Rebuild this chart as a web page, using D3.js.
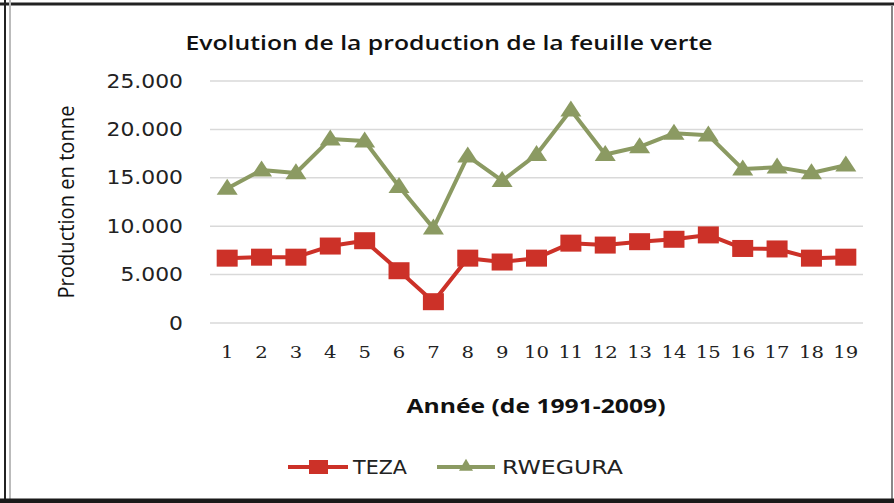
<!DOCTYPE html>
<html>
<head>
<meta charset="utf-8">
<script src="https://cdn.jsdelivr.net/npm/d3@7"></script>
<style>
  html, body { margin: 0; padding: 0; background: #fff; }
  svg { display: block; }
</style>
</head>
<body>
<svg id="chart" width="894" height="503"></svg>
<script>
// Data
const years = d3.range(1, 20).map(String);
const teza = [6700, 6800, 6800, 7950, 8500, 5400, 2200, 6700, 6300, 6700,
  8250, 8050, 8400, 8650, 9100, 7700, 7650, 6700, 6800];
const rwegura = [13900, 15800, 15500, 19000, 18800, 14100, 9800, 17250, 14700, 17400,
  22000, 17400, 18200, 19600, 19400, 15900, 16100, 15500, 16300];
const yTicks = [0, 5000, 10000, 15000, 20000, 25000];

const svg = d3.select('#chart');
const W = 894, H = 503;
const green = '#8b9a62', red = '#cc3128';

// the source picture is stretched sideways, so stretch text the same way
function stretch(sel, k) {
  sel.each(function () {
    const len = this.getComputedTextLength();
    d3.select(this).attr('textLength', len * k).attr('lengthAdjust', 'spacingAndGlyphs');
  });
}

// frame
svg.append('rect').attr('width', W).attr('height', H).attr('fill', '#fff');
svg.append('line').attr('x1', 0).attr('x2', W).attr('y1', 4).attr('y2', 4).attr('stroke', '#222').attr('stroke-width', 3);
svg.append('line').attr('x1', 5).attr('x2', 5).attr('y1', 0).attr('y2', H).attr('stroke', '#222').attr('stroke-width', 2);
svg.append('line').attr('x1', 10).attr('x2', 10).attr('y1', 0).attr('y2', H).attr('stroke', '#bbb').attr('stroke-width', 2);
svg.append('line').attr('x1', 892).attr('x2', 892).attr('y1', 6).attr('y2', H).attr('stroke', '#888').attr('stroke-width', 2);
svg.append('line').attr('x1', 0).attr('x2', W).attr('y1', 501).attr('y2', 501).attr('stroke', '#1a1a1a').attr('stroke-width', 5);

const x = d3.scaleBand().domain(years).range([210, 863]);
const y = d3.scaleLinear().domain([0, 25000]).range([323, 81]);
const cx = d => x(d) + x.bandwidth() / 2;

// gridlines
svg.append('g')
  .selectAll('line')
  .data(yTicks)
  .enter().append('line')
  .attr('x1', 210).attr('x2', 863)
  .attr('y1', d => y(d)).attr('y2', d => y(d))
  .attr('stroke', '#d9d9d9').attr('stroke-width', 1.5);

// y axis
const yAxis = svg.append('g')
  .attr('transform', 'translate(183,0)')
  .call(d3.axisLeft(y).tickValues(yTicks).tickSize(0).tickPadding(0)
    .tickFormat(d => d === 0 ? '0' : d3.format(',')(d).replace(/,/g, '.')));
yAxis.select('.domain').remove();
yAxis.selectAll('text')
  .attr('font-family', 'DejaVu Sans')
  .attr('font-size', 19)
  .attr('fill', '#222')
  .call(stretch, 1.15);

// x axis
const xAxis = svg.append('g')
  .attr('transform', 'translate(0,346)')
  .call(d3.axisBottom(x).tickSize(0).tickPadding(0));
xAxis.select('.domain').remove();
xAxis.selectAll('text')
  .attr('font-family', 'DejaVu Serif')
  .attr('font-size', 17.5)
  .attr('fill', '#222')
  .call(stretch, 1.12);

// lines
const line = vals => d3.line().x((d, i) => cx(years[i])).y(d => y(d))(vals);
svg.append('path').attr('d', line(rwegura)).attr('fill', 'none')
  .attr('stroke', green).attr('stroke-width', 4).attr('stroke-linejoin', 'round');
svg.append('path').attr('d', line(teza)).attr('fill', 'none')
  .attr('stroke', red).attr('stroke-width', 4).attr('stroke-linejoin', 'round');

// markers
const triPath = (w, h) => `M0,${-h * 0.6}L${w / 2},${h * 0.4}L${-w / 2},${h * 0.4}Z`;
svg.append('g').selectAll('path')
  .data(rwegura)
  .enter().append('path')
  .attr('d', triPath(21, 16))
  .attr('transform', (d, i) => `translate(${cx(years[i])},${y(d)})`)
  .attr('fill', green);

svg.append('g').selectAll('rect')
  .data(teza)
  .enter().append('rect')
  .attr('x', (d, i) => cx(years[i]) - 10.5)
  .attr('y', d => y(d) - 8.5)
  .attr('width', 21).attr('height', 17)
  .attr('fill', red);

// title
svg.append('text').attr('x', 449).attr('y', 50)
  .attr('text-anchor', 'middle')
  .attr('font-family', 'Open Sans').attr('font-weight', 600).attr('font-size', 19.5)
  .attr('textLength', 527).attr('lengthAdjust', 'spacingAndGlyphs')
  .attr('fill', '#111')
  .text('Evolution de la production de la feuille verte');

// axis titles
svg.append('text').attr('x', 536).attr('y', 413)
  .attr('text-anchor', 'middle')
  .attr('font-family', 'Open Sans').attr('font-weight', 700).attr('font-size', 19)
  .attr('textLength', 259).attr('lengthAdjust', 'spacingAndGlyphs')
  .attr('fill', '#111')
  .text('Année (de 1991-2009)');

svg.append('text')
  .attr('transform', 'translate(74,202) rotate(-90)')
  .attr('text-anchor', 'middle')
  .attr('font-family', 'Open Sans').attr('font-size', 21.5)
  .attr('textLength', 193).attr('lengthAdjust', 'spacingAndGlyphs')
  .attr('fill', '#111')
  .text('Production en tonne');

// legend
const lg = svg.append('g');
lg.append('line').attr('x1', 288).attr('x2', 348).attr('y1', 467).attr('y2', 467)
  .attr('stroke', red).attr('stroke-width', 4);
lg.append('rect').attr('x', 309).attr('y', 460).attr('width', 19).attr('height', 14).attr('fill', red);
lg.append('text').attr('x', 353).attr('y', 474)
  .attr('font-family', 'DejaVu Sans').attr('font-size', 19)
  .attr('textLength', 54).attr('lengthAdjust', 'spacingAndGlyphs')
  .attr('fill', '#222').text('TEZA');
lg.append('line').attr('x1', 437).attr('x2', 495).attr('y1', 467).attr('y2', 467)
  .attr('stroke', green).attr('stroke-width', 4);
lg.append('path').attr('d', triPath(14, 12)).attr('transform', 'translate(466,466)').attr('fill', green);
lg.append('text').attr('x', 502).attr('y', 474)
  .attr('font-family', 'DejaVu Sans').attr('font-size', 19)
  .attr('textLength', 121).attr('lengthAdjust', 'spacingAndGlyphs')
  .attr('fill', '#222').text('RWEGURA');
</script>
</body>
</html>
